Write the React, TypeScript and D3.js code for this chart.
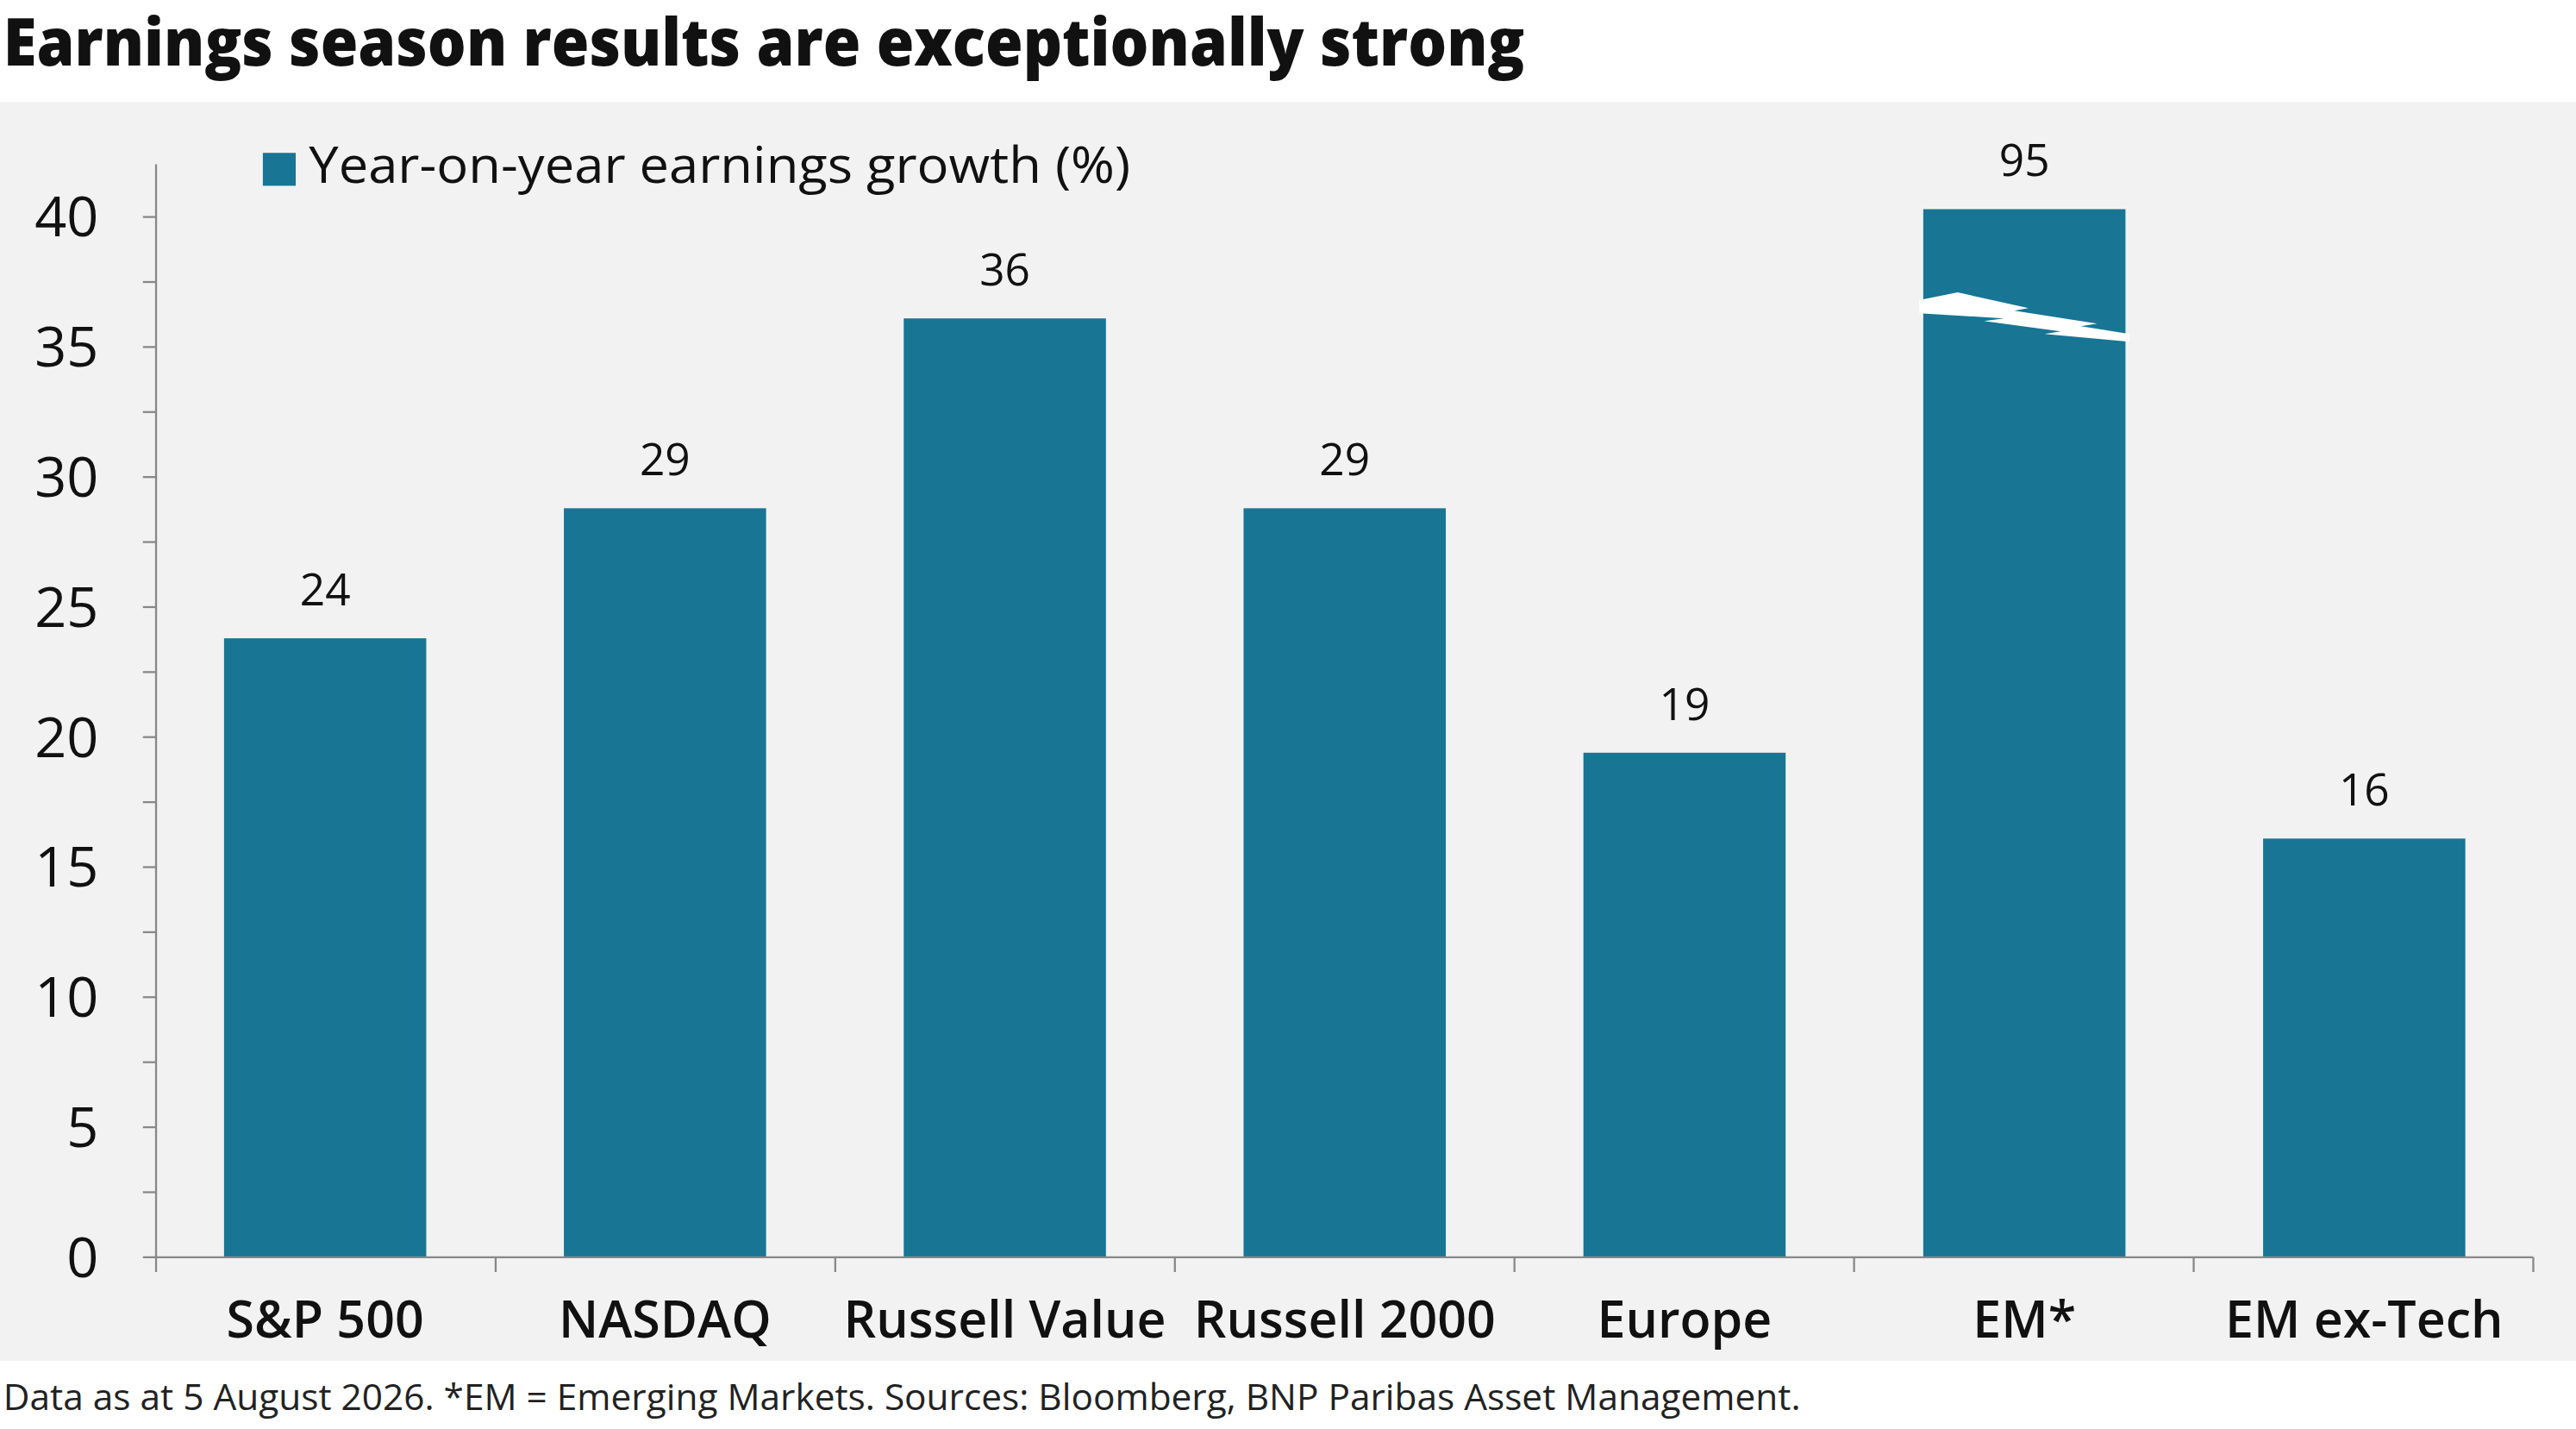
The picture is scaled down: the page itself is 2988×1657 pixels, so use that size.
import React from 'react';
import * as d3 from 'd3';

const categories = ['S&P 500', 'NASDAQ', 'Russell Value', 'Russell 2000', 'Europe', 'EM*', 'EM ex-Tech'];
const values = [23.8, 28.8, 36.1, 28.8, 19.4, 95, 16.1];
const labels = ['24', '29', '36', '29', '19', '95', '16'];
const yTicks = [0, 5, 10, 15, 20, 25, 30, 35, 40];
const CAP = 40.3;

const W = 1568, H = 870;
const margin = { left: 95, right: 26, top: 132, bottom: 105 };

const App: React.FC = () => {
  const x = d3.scaleBand<string>().domain(categories).range([margin.left, W - margin.right]).paddingInner(0.405).paddingOuter(0.2);
  const y = d3.scaleLinear().domain([0, 40]).range([765, 132]);
  const minor = d3.range(0, 42.5, 2.5);
  const font = "'Open Sans', 'Noto Sans', sans-serif";
  const color = '#187594';
  const em = categories[5];
  const bx = x(em)!, bw = x.bandwidth();
  // break shape: fractions of bar width, y values in data units
  const brk: [number, number][] = [
    [-0.02, 36.8], [0.17, 37.1], [0.52, 36.5], [0.45, 36.4], [0.86, 35.9], [0.78, 35.8], [1.02, 35.5],
    [1.02, 35.2], [0.6, 35.5], [0.68, 35.6], [0.3, 36.0], [0.4, 36.1], [-0.02, 36.3],
  ];
  const brkPath = d3.line<[number, number]>().x(d => bx + d[0] * bw).y(d => y(d[1]))(brk) + 'Z';

  return (
    <svg width={2988} height={1658} viewBox={`0 0 ${W} ${H}`} style={{ position: 'absolute', left: 0, top: 0, fontFamily: font }}>
      <rect x={0} y={0} width={W} height={H} fill="#fff" />
      <text x={2} y={40} fontSize={40} fontWeight={800} fill="#111" textLength={926} lengthAdjust="spacingAndGlyphs">Earnings season results are exceptionally strong</text>
      <rect x={0} y={62} width={W} height={766} fill="#f2f2f2" />
      {/* legend */}
      <rect x={160} y={93} width={20} height={20} fill={color} />
      <text x={188} y={111} fontSize={31} fill="#111" textLength={500} lengthAdjust="spacingAndGlyphs">Year-on-year earnings growth (%)</text>
      {/* bars */}
      {categories.map((c, i) => {
        const v = Math.min(values[i], CAP);
        return (
          <g key={c}>
            <rect x={x(c)} y={y(v)} width={bw} height={y(0) - y(v)} fill={color} />
            <text x={x(c)! + bw / 2} y={y(v) - 20} textAnchor="middle" fontSize={27} fill="#111">{labels[i]}</text>
            <text x={x(c)! + bw / 2} y={814} textAnchor="middle" fontSize={31} fontWeight={600} fill="#111">{c}</text>
          </g>
        );
      })}
      <path d={brkPath} fill="#fff" />
      {/* y axis */}
      <line x1={margin.left} x2={margin.left} y1={100} y2={y(0)} stroke="#888" strokeWidth={1.2} />
      {minor.map(t => (
        <line key={t} x1={margin.left - 8} x2={margin.left} y1={y(t)} y2={y(t)} stroke="#888" strokeWidth={1.2} />
      ))}
      {yTicks.map(t => (
        <text key={t} x={60} y={y(t) + 12} textAnchor="end" fontSize={34} fill="#111">{t}</text>
      ))}
      {/* x axis */}
      <line x1={margin.left} x2={W - margin.right} y1={y(0)} y2={y(0)} stroke="#888" strokeWidth={1.2} />
      {d3.range(categories.length + 1).map(i => {
        const px = margin.left + (i * (W - margin.right - margin.left)) / categories.length;
        return <line key={i} x1={px} x2={px} y1={y(0)} y2={y(0) + 9} stroke="#888" strokeWidth={1.2} />;
      })}
      <text x={2} y={858} fontSize={22} fill="#222" textLength={1094} lengthAdjust="spacingAndGlyphs">Data as at 5 August 2026. *EM = Emerging Markets. Sources: Bloomberg, BNP Paribas Asset Management.</text>
    </svg>
  );
};

export default App;
